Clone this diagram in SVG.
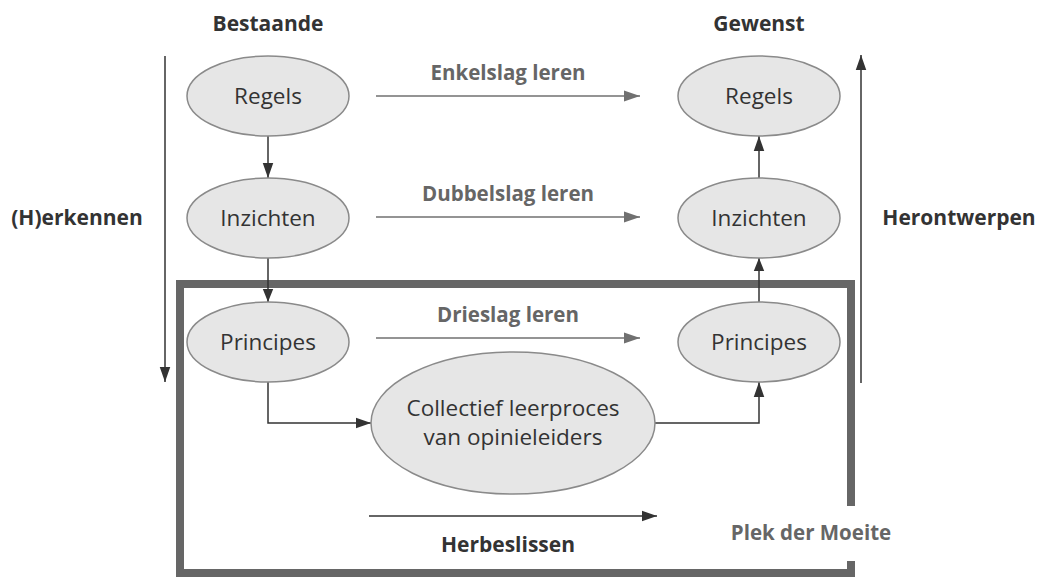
<svg xmlns="http://www.w3.org/2000/svg" width="1041" height="577" viewBox="0 0 1041 577">
<defs>
<marker id="ah" viewBox="0 0 10 10" refX="10" refY="5" markerWidth="13" markerHeight="13" markerUnits="userSpaceOnUse" orient="auto"><path d="M0,1 L10,5 L0,9 z" fill="#333"/></marker>
<marker id="ahb" viewBox="0 0 10 10" refX="10" refY="5" markerWidth="15" markerHeight="15" markerUnits="userSpaceOnUse" orient="auto"><path d="M0,1.5 L10,5 L0,8.5 z" fill="#333"/></marker>
<marker id="ahg" viewBox="0 0 10 10" refX="10" refY="5" markerWidth="16" markerHeight="16" markerUnits="userSpaceOnUse" orient="auto"><path d="M0,1.5 L10,5 L0,8.5 z" fill="#707070"/></marker>
</defs>
<style>
text{font-family:"Open Sans","Noto Sans","Liberation Sans",sans-serif;}
.node ellipse{fill:#e6e6e6;stroke:#8a8a8a;stroke-width:1.5;}
.node text{font-size:22.5px;fill:#333;text-anchor:middle;}
.hd{font-size:21px;font-weight:bold;fill:#333;text-anchor:middle;}
.gl{font-size:20.5px;font-weight:bold;fill:#666;text-anchor:middle;}
.c{fill:none;stroke:#333;stroke-width:1.5;}
.g{fill:none;stroke:#707070;stroke-width:1.5;}
</style>
<rect width="1041" height="577" fill="#fff"/>
<path d="M851,506 V284 H180 V573 H851 V561" fill="none" stroke="#666" stroke-width="8"/>
<text class="hd" x="268" y="31">Bestaande</text>
<text class="hd" x="759" y="31">Gewenst</text>
<text class="hd" x="77" y="225">(H)erkennen</text>
<text class="hd" x="959" y="225">Herontwerpen</text>
<text class="gl" x="508" y="80">Enkelslag leren</text>
<text class="gl" x="508" y="201">Dubbelslag leren</text>
<text class="gl" x="508" y="322">Drieslag leren</text>
<text class="hd" x="508" y="552">Herbeslissen</text>
<text class="gl" x="811" y="540">Plek der Moeite</text>
<g id="connectors">
<line class="c" x1="165" y1="56" x2="165" y2="382" marker-end="url(#ahb)"/>
<line class="c" x1="861" y1="383" x2="861" y2="55" marker-end="url(#ahb)"/>
<line class="g" x1="376" y1="96" x2="640" y2="96" marker-end="url(#ahg)"/>
<line class="g" x1="376" y1="217" x2="640" y2="217" marker-end="url(#ahg)"/>
<line class="g" x1="376" y1="338" x2="640" y2="338" marker-end="url(#ahg)"/>
<line class="c" x1="369" y1="516" x2="657" y2="516" marker-end="url(#ahb)"/>
<line class="c" x1="268" y1="136" x2="268" y2="178" marker-end="url(#ahb)"/>
<line class="c" x1="268" y1="258" x2="268" y2="302" marker-end="url(#ah)"/>
<path class="c" d="M268,382 V423 H371" marker-end="url(#ahb)"/>
<path class="c" d="M655,423 H759 V382" marker-end="url(#ahb)"/>
<line class="c" x1="759" y1="302" x2="759" y2="258" marker-end="url(#ah)"/>
<line class="c" x1="759" y1="178" x2="759" y2="136" marker-end="url(#ahb)"/>
</g>
<g id="n-regels-b" class="node"><ellipse cx="268" cy="96" rx="81" ry="40"/><text x="268" y="104">Regels</text></g>
<g id="n-inzichten-b" class="node"><ellipse cx="268" cy="218" rx="81" ry="40"/><text x="268" y="226">Inzichten</text></g>
<g id="n-principes-b" class="node"><ellipse cx="268" cy="342" rx="81" ry="40"/><text x="268" y="350">Principes</text></g>
<g id="n-regels-g" class="node"><ellipse cx="759" cy="96" rx="81" ry="40"/><text x="759" y="104">Regels</text></g>
<g id="n-inzichten-g" class="node"><ellipse cx="759" cy="218" rx="81" ry="40"/><text x="759" y="226">Inzichten</text></g>
<g id="n-principes-g" class="node"><ellipse cx="759" cy="342" rx="81" ry="40"/><text x="759" y="350">Principes</text></g>
<g id="n-collectief" class="node"><ellipse cx="513" cy="423" rx="142" ry="71"/><text x="513" y="416">Collectief leerproces</text><text x="513" y="445">van opinieleiders</text></g>
</svg>
